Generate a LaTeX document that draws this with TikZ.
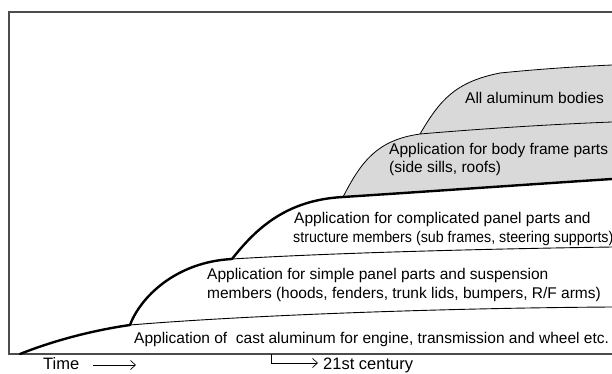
\documentclass[tikz,border=0pt]{standalone}
\usepackage{fontspec}
\usepackage{graphicx}
\setmainfont{Liberation Sans}
\usetikzlibrary{arrows.meta}
\begin{document}
\begin{tikzpicture}[x=1pt,y=-1pt,
  lbl/.style={inner sep=0pt, anchor=base west, font=\fontsize{15.5}{19}\selectfont},
  axlbl/.style={inner sep=0pt, anchor=base west, font=\fontsize{16.5}{19}\selectfont},
  thickline/.style={line width=2.4pt, line cap=round, line join=round},
  thinline/.style={line width=0.9pt},
  frameline/.style={line width=1.1pt, draw=black!70},
  regionfill/.style={fill=black!15},
  regionline/.style={line width=0.8pt},
  tarrow/.style={-{Straight Barb[length=5pt,width=9pt]}, line width=0.7pt}]
\useasboundingbox (0,0) rectangle (612,374);
% named points
\coordinate (p0) at (20,354);
\coordinate (p1) at (130,325);
\coordinate (p2) at (232,259);
\coordinate (p3) at (343,197);
\coordinate (p4) at (420,134);
\coordinate (r1) at (612,307);
\coordinate (r2) at (612,247);
\coordinate (r3) at (612,179);
\coordinate (r4) at (612,122);
\coordinate (r5) at (612,65);
% gray regions
\fill[regionfill] (p3) .. controls (362,160) and (378,140) .. (p4) .. controls (490,128) and (560,124) .. (r4) -- (r3) .. controls (550,183) and (450,190) .. (p3) -- cycle;
\fill[regionfill] (p4) .. controls (440,100) and (455,82) .. (500,73) .. controls (550,68) and (590,66) .. (r5) -- (r4) .. controls (560,124) and (490,128) .. (p4) -- cycle;
\draw[regionline] (p3) .. controls (362,160) and (378,140) .. (p4) .. controls (490,128) and (560,124) .. (r4);
\draw[regionline] (p4) .. controls (440,100) and (455,82) .. (500,73) .. controls (550,68) and (590,66) .. (r5);
% frame
\draw[frameline] (612,12) -- (9,12) -- (9,354) -- (612,354);
% thin branches
\draw[thinline] (p1) .. controls (250,315) and (450,308) .. (r1);
\draw[thinline] (p2) .. controls (330,253) and (480,249) .. (r2);
% thick envelope
\draw[thickline] (p0) .. controls (55,340) and (95,330) .. (p1)
  .. controls (140,298) and (175,262) .. (p2)
  .. controls (255,230) and (285,200) .. (p3)
  .. controls (450,190) and (550,183) .. (r3);
% labels
\node[lbl] (cast) at (134,343) {Application of\hspace{0.28em} cast aluminum for engine, transmission and wheel etc.};
\node[lbl] (simple1) at (207,279) {Application for simple panel parts and suspension};
\node[lbl] (simple2) at (207,298) {members (hoods, fenders, trunk lids, bumpers, R/F arms)};
\node[lbl] (compl1) at (294,223) {Application for complicated panel parts and};
\node[lbl] (compl2) at (293,242) {\scalebox{0.92}[1]{structure members (sub frames, steering supports)}};
\node[lbl] (body1) at (389,155) {Application for body frame parts};
\node[lbl] (body2) at (389,172) {(side sills, roofs)};
\node[lbl] (allal) at (465,104) {All aluminum bodies};
\node[axlbl] (time) at (43,369.5) {Time};
\node[axlbl] (cent) at (323,369.5) {21st century};
% arrows
\coordinate (t1) at (93,365);
\coordinate (t2) at (136,365);
\draw[tarrow] (t1) -- (t2);
\coordinate (c0) at (271,354);
\coordinate (c1) at (318,363);
\draw[tarrow] (c0) |- (c1);
\end{tikzpicture}
\end{document}
